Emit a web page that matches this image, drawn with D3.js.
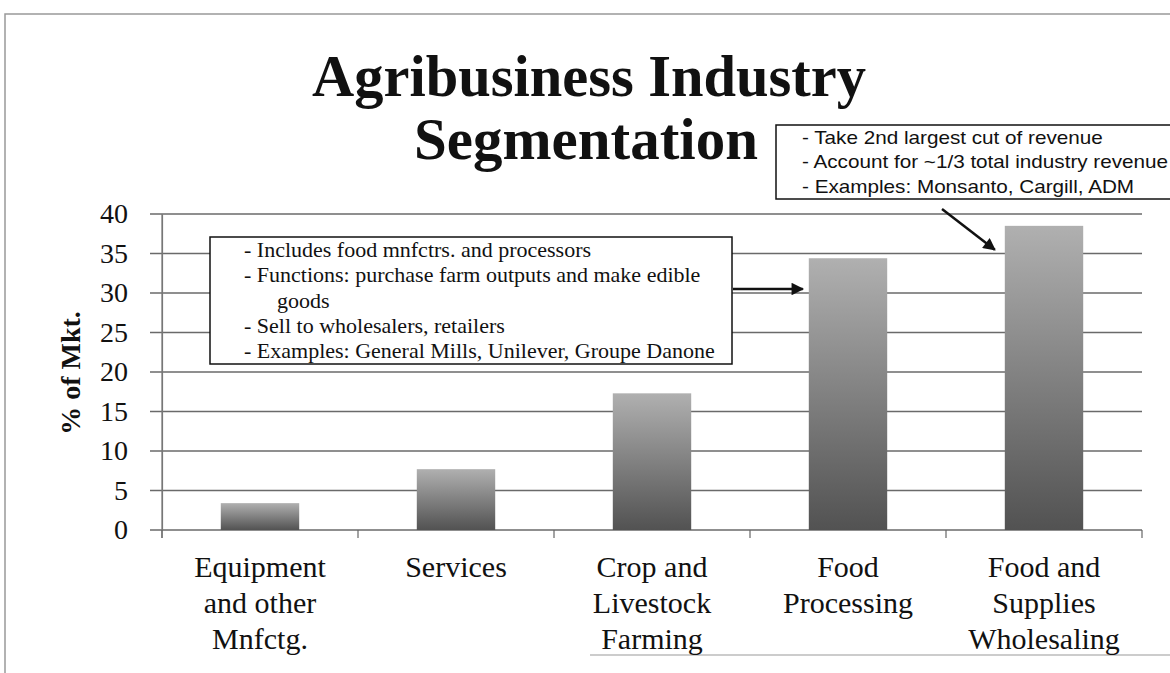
<!DOCTYPE html>
<html>
<head>
<meta charset="utf-8">
<script src="https://cdn.jsdelivr.net/npm/d3@7"></script>
<style>
  body { margin: 0; background: #fff; }
  svg { display: block; }
  .serif { font-family: "Liberation Serif", "DejaVu Serif", serif; fill: #111; }
  .sans { font-family: "Liberation Sans", Arial, sans-serif; fill: #111; }
</style>
</head>
<body>
<div id="chart"></div>
<script>
// chart values
const categories = [
    ["Equipment", "and other", "Mnfctg."],
    ["Services"],
    ["Crop and", "Livestock", "Farming"],
    ["Food", "Processing"],
    ["Food and", "Supplies", "Wholesaling"]
]
const shares = [3.4, 7.7, 17.3, 34.4, 38.5]
const yTicks = [0, 5, 10, 15, 20, 25, 30, 35, 40]

const titleLines = ["Agribusiness Industry", "Segmentation"]
const yTitle = "% of Mkt."

const processingNotes = [
    "- Includes food mnfctrs. and processors",
    "- Functions: purchase farm outputs and make edible",
    "      goods",
    "- Sell to wholesalers, retailers",
    "- Examples: General Mills, Unilever, Groupe Danone"
]
const wholesaleNotes = [
    "- Take 2nd largest cut of revenue",
    "- Account for ~1/3 total industry revenue",
    "- Examples: Monsanto, Cargill, ADM"
]

const W = 1170, H = 673
const svg = d3.select("#chart").append("svg")
    .attr("width", W)
    .attr("height", H)

const defs = svg.append("defs")
let grad = defs.append("linearGradient")
    .attr("id", "barGrad")
    .attr("x1", 0).attr("y1", 0).attr("x2", 0).attr("y2", 1)
grad.append("stop").attr("offset", "0%").attr("stop-color", "#b0b0b0")
grad.append("stop").attr("offset", "100%").attr("stop-color", "#525252")

defs.append("marker")
    .attr("id", "arrow")
    .attr("viewBox", "0 0 10 10")
    .attr("refX", 9).attr("refY", 5)
    .attr("markerWidth", 7).attr("markerHeight", 5)
    .attr("markerUnits", "strokeWidth")
    .attr("orient", "auto")
    .append("path")
    .attr("d", "M0,0 L10,5 L0,10 z")
    .attr("fill", "#111")

// slide frame
svg.append("path")
    .attr("d", "M5,673 L5,14 L1170,14")
    .attr("fill", "none")
    .attr("stroke", "#999")
    .attr("stroke-width", 1.5)
svg.append("line")
    .attr("x1", 590).attr("x2", 1170).attr("y1", 655).attr("y2", 655)
    .attr("stroke", "#bbb").attr("stroke-width", 1.5)

// title
svg.selectAll(".title")
    .data(titleLines)
    .enter().append("text")
    .attr("class", "title serif")
    .attr("x", (d, i) => i === 0 ? 589 : 586)
    .attr("y", (d, i) => i === 0 ? 96 : 159)
    .attr("text-anchor", "middle")
    .attr("font-weight", "bold")
    .attr("font-size", 60)
    .attr("textLength", (d, i) => i === 0 ? 554 : 344)
    .attr("lengthAdjust", "spacingAndGlyphs")
    .text(d => d)

// scales
const x = d3.scaleBand()
    .domain(d3.range(categories.length))
    .range([162, 1142])
    .paddingInner(0.6)
    .paddingOuter(0.3)

const y = d3.scaleLinear()
    .domain([0, 40])
    .range([530, 214])

const step = x.step()
const left = x.range()[0]

// gridlines
svg.append("g")
    .selectAll("line")
    .data(yTicks)
    .enter().append("line")
    .attr("x1", left - 12)
    .attr("x2", 1142)
    .attr("y1", d => y(d))
    .attr("y2", d => y(d))
    .attr("stroke", "#6a6a6a")
    .attr("stroke-width", 1.4)

// y axis
let yAxis = d3.axisLeft(y).tickValues(yTicks).tickSize(0).tickPadding(34)
let yg = svg.append("g")
    .attr("transform", `translate(${left},0)`)
    .call(yAxis)
yg.select(".domain").attr("stroke", "#777").attr("stroke-width", 1.2)
yg.selectAll("text")
    .attr("class", "serif")
    .attr("font-size", 28)
    .attr("fill", "#111")
yg.append("line")
    .attr("y1", y(40)).attr("y2", y(0) + 8)
    .attr("stroke", "#777").attr("stroke-width", 1.2)

svg.append("text")
    .attr("class", "serif")
    .attr("transform", "translate(80,373) rotate(-90)")
    .attr("text-anchor", "middle")
    .attr("font-weight", "bold")
    .attr("font-size", 28)
    .text(yTitle)

// x category ticks
svg.append("g")
    .selectAll("line")
    .data(d3.range(categories.length + 1))
    .enter().append("line")
    .attr("x1", i => left + i * step)
    .attr("x2", i => left + i * step)
    .attr("y1", y(0))
    .attr("y2", y(0) + 8)
    .attr("stroke", "#666")
    .attr("stroke-width", 1.2)

// bars
svg.append("g")
    .selectAll("rect")
    .data(shares)
    .enter().append("rect")
    .attr("x", (d, i) => x(i))
    .attr("width", x.bandwidth())
    .attr("y", d => y(d))
    .attr("height", d => y(0) - y(d))
    .attr("fill", "url(#barGrad)")

// category labels
let labels = svg.append("g")
    .selectAll("text")
    .data(categories)
    .enter().append("text")
    .attr("class", "serif")
    .attr("text-anchor", "middle")
    .attr("font-size", 30)
    .attr("x", (d, i) => x(i) + x.bandwidth() / 2)
labels.selectAll("tspan")
    .data(d => d)
    .enter().append("tspan")
    .attr("x", function() { return d3.select(this.parentNode).attr("x") })
    .attr("y", (d, j) => 577 + j * 36)
    .text(d => d)

// annotation box: food processing
svg.append("rect")
    .attr("x", 210).attr("y", 237)
    .attr("width", 522).attr("height", 127)
    .attr("fill", "#fff")
    .attr("stroke", "#111").attr("stroke-width", 1.5)
svg.append("g")
    .selectAll("text")
    .data(processingNotes)
    .enter().append("text")
    .attr("class", "serif")
    .attr("xml:space", "preserve")
    .attr("x", 244)
    .attr("y", (d, i) => 257 + i * 25.3)
    .attr("font-size", 22)
    .text(d => d)

svg.append("line")
    .attr("x1", 733).attr("y1", 289)
    .attr("x2", x(3) - 6).attr("y2", 289)
    .attr("stroke", "#111").attr("stroke-width", 2.5)
    .attr("marker-end", "url(#arrow)")

// annotation box: wholesaling
svg.append("rect")
    .attr("x", 776).attr("y", 125)
    .attr("width", 400).attr("height", 74)
    .attr("fill", "#fff")
    .attr("stroke", "#111").attr("stroke-width", 1.5)
svg.append("g")
    .attr("transform", "translate(802,0) scale(1.15,1)")
    .selectAll("text")
    .data(wholesaleNotes)
    .enter().append("text")
    .attr("class", "sans")
    .attr("x", 0)
    .attr("y", (d, i) => 144 + i * 24.5)
    .attr("font-size", 18)
    .text(d => d)

svg.append("line")
    .attr("x1", 942).attr("y1", 209)
    .attr("x2", x(4) - 10).attr("y2", y(38.5) + 24)
    .attr("stroke", "#111").attr("stroke-width", 2.5)
    .attr("marker-end", "url(#arrow)")
</script>
</body>
</html>
